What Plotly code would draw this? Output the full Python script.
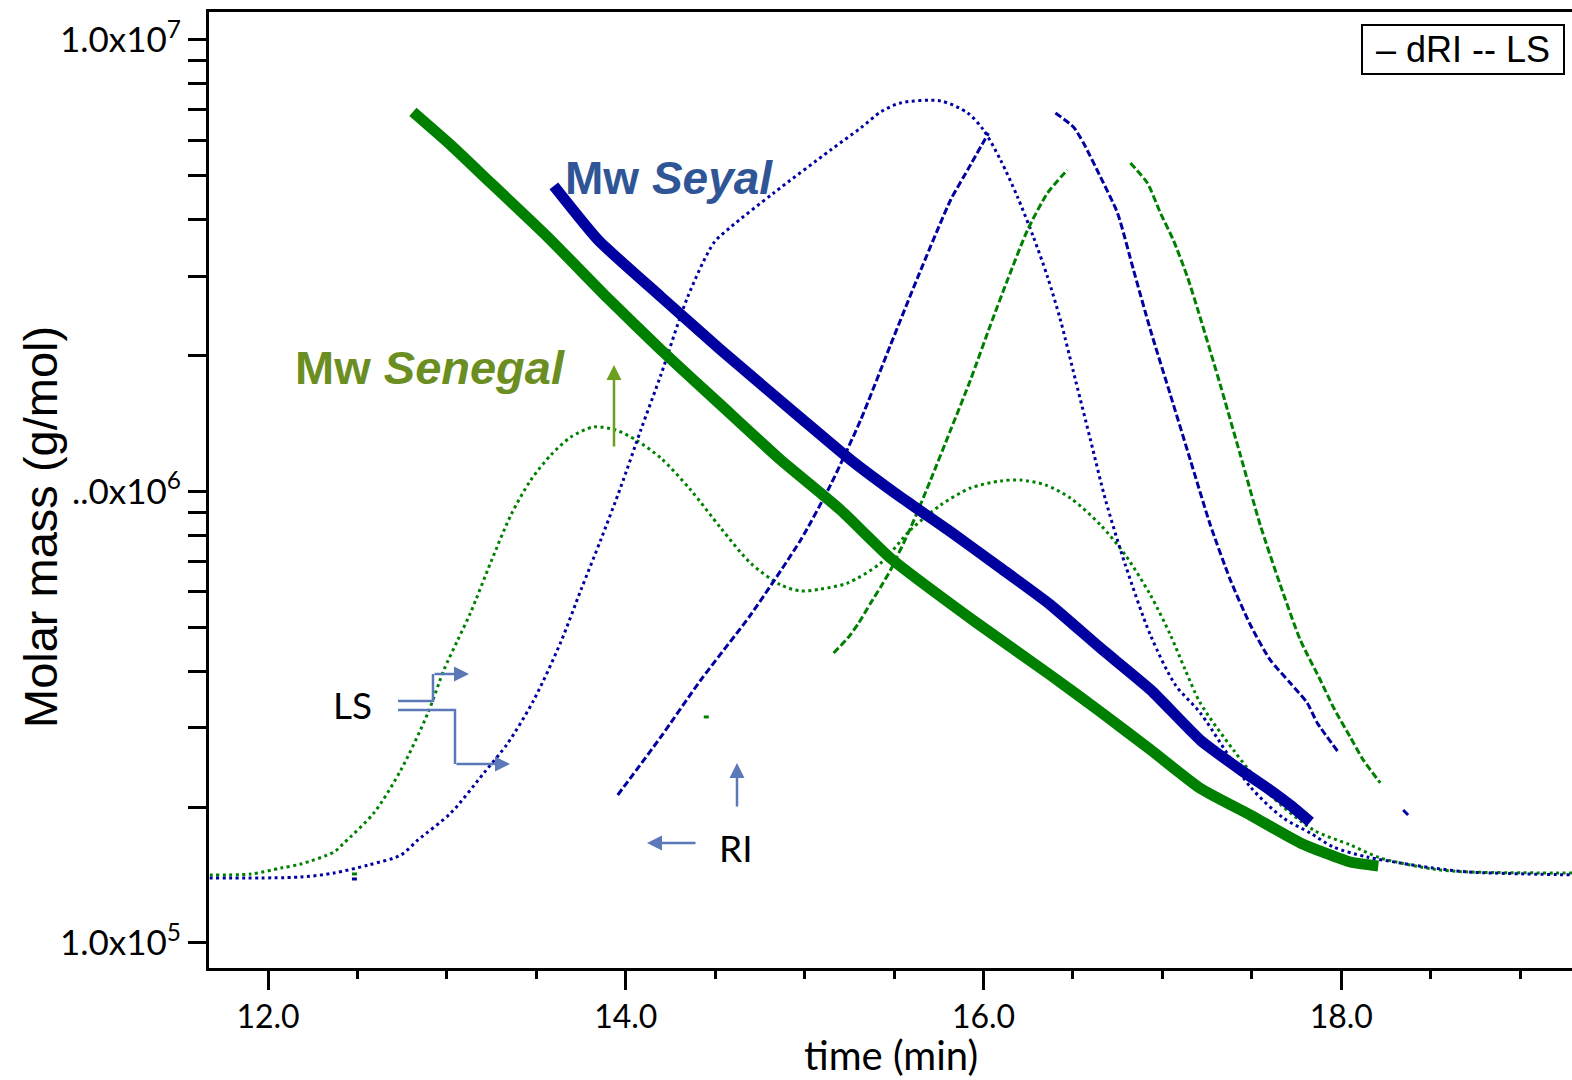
import plotly.graph_objects as go

# ---- Weight-average molar mass (g/mol) vs elution time (min) ----
senegal_mw_time = [12.810, 13.022, 13.246, 13.564, 13.899, 14.196, 14.531, 14.866, 15.201, 15.480,
                   15.955, 16.374, 16.654, 16.933, 17.212, 17.492, 17.771, 18.050, 18.207]
senegal_mw = [6.93e6, 5.85e6, 4.82e6, 3.66e6, 2.68e6, 2.06e6, 1.555e6, 1.175e6, 9.10e5, 7.12e5,
              5.14e5, 3.92e5, 3.25e5, 2.68e5, 2.20e5, 1.92e5, 1.666e5, 1.511e5, 1.481e5]

seyal_mw_time = [13.598, 13.844, 14.196, 14.531, 14.978, 15.257, 15.536, 15.816, 16.095, 16.374,
                 16.654, 16.933, 17.212, 17.436, 17.603, 17.715, 17.827]
seyal_mw = [4.75e6, 3.61e6, 2.70e6, 2.06e6, 1.455e6, 1.175e6, 9.72e5, 8.14e5, 6.77e5, 5.61e5,
            4.50e5, 3.64e5, 2.815e5, 2.42e5, 2.18e5, 2.02e5, 1.854e5]

# ---- Light-scattering detector traces (dotted) ----
senegal_ls_time = [11.6, 11.905, 12.073, 12.184, 12.369, 12.425, 12.592, 12.743, 12.894, 12.983,
                   13.061, 13.134, 13.246, 13.358, 13.469, 13.581, 13.693, 13.821, 13.944, 14.056,
                   14.196, 14.363, 14.531, 14.698, 14.866, 14.978, 15.089, 15.240, 15.425, 15.592,
                   15.760, 15.927, 16.095, 16.207, 16.346, 16.486, 16.654, 16.793, 16.933, 17.045,
                   17.128, 17.212, 17.397, 17.603, 17.844, 18.050, 18.218, 18.514, 18.704, 19.3]
senegal_ls = [1.415e5, 1.422e5, 1.466e5, 1.496e5, 1.591e5, 1.666e5, 1.941e5, 2.417e5, 3.232e5, 4.024e5,
              4.690e5, 5.41e5, 6.98e5, 8.87e5, 1.060e6, 1.204e6, 1.320e6, 1.390e6, 1.368e6, 1.301e6,
              1.186e6, 1.008e6, 8.30e5, 6.94e5, 6.21e5, 6.02e5, 6.08e5, 6.27e5, 6.94e5, 8.22e5,
              9.33e5, 1.018e6, 1.055e6, 1.060e6, 1.034e6, 9.67e5, 8.43e5, 7.23e5, 5.90e5, 4.81e5,
              4.024e5, 3.40e5, 2.676e5, 2.127e5, 1.780e5, 1.649e5, 1.543e5, 1.458e5, 1.437e5, 1.429e5]

seyal_ls_time = [11.6, 12.184, 12.369, 12.559, 12.743, 12.838, 13.022, 13.207, 13.341, 13.486,
                 13.637, 13.749, 13.860, 13.972, 14.084, 14.196, 14.346, 14.492, 14.587, 14.827,
                 15.145, 15.313, 15.425, 15.536, 15.760, 15.911, 16.000, 16.095, 16.190, 16.279,
                 16.358, 16.430, 16.514, 16.598, 16.682, 16.793, 16.933, 17.073, 17.212, 17.492,
                 17.676, 17.827, 17.955, 18.145, 18.330, 18.514, 18.704, 19.3]
seyal_ls = [1.393e5, 1.400e5, 1.429e5, 1.488e5, 1.566e5, 1.691e5, 1.941e5, 2.380e5, 2.773e5, 3.453e5,
            4.642e5, 6.05e5, 7.81e5, 1.023e6, 1.368e6, 1.811e6, 2.697e6, 3.552e6, 3.853e6, 4.583e6,
            5.706e6, 6.385e6, 6.928e6, 7.254e6, 7.328e6, 6.893e6, 6.320e6, 5.424e6, 4.491e6, 3.662e6,
            2.987e6, 2.398e6, 1.766e6, 1.301e6, 9.58e5, 6.875e5, 4.81e5, 3.727e5, 3.232e5, 2.216e5,
            1.892e5, 1.752e5, 1.632e5, 1.550e5, 1.504e5, 1.466e5, 1.437e5, 1.415e5]

# ---- Differential refractive index traces (dashed); None splits the fragments ----
senegal_dri_time = [12.469, 12.497, None, 14.436, 14.464, None,
                    15.162, 15.246, 15.302, 15.369, 15.425, 15.480, 15.592, 15.704, 15.816, 15.927,
                    16.039, 16.134, 16.246, 16.358, 16.469, None,
                    16.821, 16.916, 16.989, 17.061, 17.140, 17.212, 17.324, 17.436, 17.547, 17.659,
                    17.771, 17.883, 17.955, 18.050, 18.123, 18.218]
senegal_dri = [1.422e5, 1.422e5, None, 3.167e5, 3.167e5, None,
               4.388e5, 4.761e5, 5.113e5, 5.662e5, 6.144e5, 6.700e5, 8.30e5, 1.060e6, 1.368e6, 1.766e6,
               2.338e6, 2.940e6, 3.795e6, 4.583e6, 5.153e6, None,
               5.341e6, 4.823e6, 4.138e6, 3.606e6, 2.987e6, 2.423e6, 1.721e6, 1.204e6, 8.43e5, 6.21e5,
               4.690e5, 3.823e5, 3.332e5, 2.860e5, 2.543e5, 2.262e5]

seyal_dri_time = [12.469, 12.497, None,
                  13.955, 14.196, 14.419, 14.698, 14.978, 15.145, 15.313, 15.480, 15.631, 15.816,
                  15.911, 16.028, None,
                  16.402, 16.503, 16.559, 16.654, 16.749, 16.838, 16.933, 17.045, 17.156, 17.268,
                  17.380, 17.492, 17.603, 17.715, 17.810, 17.866, 17.983, None, 18.346, 18.385]
seyal_dri = [1.386e5, 1.386e5, None,
             2.127e5, 2.860e5, 3.823e5, 5.33e5, 7.81e5, 1.034e6, 1.440e6, 2.111e6, 2.972e6, 4.422e6,
             5.153e6, 6.223e6, None,
             6.893e6, 6.417e6, 5.913e6, 4.972e6, 4.138e6, 3.10e6, 2.279e6, 1.636e6, 1.175e6, 8.43e5,
             6.368e5, 5.062e5, 4.235e5, 3.766e5, 3.40e5, 3.072e5, 2.649e5, None, 1.970e5, 1.902e5]

# ---- Axis ticks ----
y_major = [1e5, 1e6, 1e7]
y_major_text = ["1.0x10<sup>5</sup>", "..0x10<sup>6</sup>", "1.0x10<sup>7</sup>"]
y_minor = [m * 10 ** e for e in (5, 6) for m in range(2, 10)]

GREEN = "#008000"
BLUE = "#0000A0"
ARROW_BLUE = "#5B78B8"
ARROW_GREEN = "#6E9E1E"
CALIBRI_LIKE = "Lato, 'Open Sans', sans-serif"
ARIAL_LIKE = "'Liberation Sans', Arial, sans-serif"

fig = go.Figure()

dot = "3px,3.5px"
dash = "7px,3px"
fig.add_trace(go.Scatter(x=senegal_ls_time, y=senegal_ls, mode="lines",
                         line=dict(color=GREEN, width=3, dash=dot, shape="spline", smoothing=0.8)))
fig.add_trace(go.Scatter(x=seyal_ls_time, y=seyal_ls, mode="lines",
                         line=dict(color=BLUE, width=3, dash=dot, shape="spline", smoothing=0.8)))
fig.add_trace(go.Scatter(x=senegal_dri_time, y=senegal_dri, mode="lines",
                         line=dict(color=GREEN, width=3, dash=dash, shape="spline", smoothing=0.6)))
fig.add_trace(go.Scatter(x=seyal_dri_time, y=seyal_dri, mode="lines",
                         line=dict(color=BLUE, width=3, dash=dash, shape="spline", smoothing=0.6)))
fig.add_trace(go.Scatter(x=senegal_mw_time, y=senegal_mw, mode="lines",
                         line=dict(color=GREEN, width=11, shape="spline", smoothing=0.5)))
fig.add_trace(go.Scatter(x=seyal_mw_time, y=seyal_mw, mode="lines",
                         line=dict(color=BLUE, width=11, shape="spline", smoothing=0.5)))

W, H = 1572, 1080
L, R, T, B = 209, 0, 12, 112
PW, PH = W - L - R, H - T - B


def px(x):
    return (x - L) / PW


def py(y):
    return (H - B - y) / PH


def label(text, x, y, size, family, color="black", **kw):
    return dict(text=text, x=px(x), y=py(y), xref="paper", yref="paper",
                xanchor="center", yanchor="middle", showarrow=False,
                font=dict(family=family, size=size, color=color), **kw)


annotations = [
    label("<b>Mw <i>Seyal</i></b>", 669, 178, 46, ARIAL_LIKE, "#2F5597"),
    label("<b>Mw <i>Senegal</i></b>", 430, 367, 47, ARIAL_LIKE, "#6B8E23"),
    label("LS", 352, 704, 37, CALIBRI_LIKE),
    label("RI", 736, 847, 37, CALIBRI_LIKE),
    label("Molar mass (g/mol)", 40, 527, 47, ARIAL_LIKE, textangle=-90),
    label("time (min)", 891, 1055, 40, CALIBRI_LIKE),
    dict(text="\u00a0\u2013 dRI -- LS\u00a0", x=px(1565), y=py(24), xref="paper", yref="paper",
         xanchor="right", yanchor="top", showarrow=False, bgcolor="white",
         bordercolor="black", borderwidth=2, borderpad=3,
         font=dict(family=ARIAL_LIKE, size=36, color="black")),
]

# arrow pointers: (tip_x, tip_y, tail offset ax, ay, colour)
arrows = [
    (469, 674, -36, 0, ARROW_BLUE),
    (510, 764, -55, 0, ARROW_BLUE),
    (614, 365, 0, 83, ARROW_GREEN),
    (737, 763, 0, 45, ARROW_BLUE),
    (647, 843, 50, 0, ARROW_BLUE),
]
for tx, ty, ax, ay, col in arrows:
    annotations.append(dict(text="", x=px(tx), y=py(ty), xref="paper", yref="paper",
                            showarrow=True, ax=ax, ay=ay, arrowhead=2, arrowsize=1.2,
                            arrowwidth=2.5, arrowcolor=col, standoff=0))


def path(points):
    return "M " + " L ".join(f"{px(a):.5f},{py(b):.5f}" for a, b in points)


shapes = [
    dict(type="path", xref="paper", yref="paper",
         path=path([(398, 701), (433, 701), (433, 674)]),
         line=dict(color=ARROW_BLUE, width=2.5)),
    dict(type="path", xref="paper", yref="paper",
         path=path([(398, 710), (455, 710), (455, 764)]),
         line=dict(color=ARROW_BLUE, width=2.5)),
]

fig.update_layout(
    width=W, height=H,
    margin=dict(l=L, r=R, t=T, b=B, pad=0),
    paper_bgcolor="white", plot_bgcolor="white",
    showlegend=False,
    annotations=annotations,
    shapes=shapes,
    xaxis=dict(
        range=[11.67, 19.29], tick0=12, dtick=2, tickformat=".1f",
        ticks="outside", ticklen=19, tickwidth=2.5, tickcolor="black",
        showline=True, linewidth=3, linecolor="black", mirror=True,
        showgrid=False, zeroline=False,
        tickfont=dict(family=CALIBRI_LIKE, size=32, color="black"),
        minor=dict(dtick=0.5, tick0=12, ticks="outside", ticklen=8, tickwidth=2.5,
                   tickcolor="black", showgrid=False),
    ),
    yaxis=dict(
        type="log", range=[4.9446, 7.062],
        tickmode="array", tickvals=y_major, ticktext=y_major_text,
        ticks="outside", ticklen=18, tickwidth=2.5, tickcolor="black",
        showline=True, linewidth=3, linecolor="black", mirror=False,
        showgrid=False, zeroline=False,
        tickfont=dict(family=CALIBRI_LIKE, size=35, color="black"),
        minor=dict(tickmode="array", tickvals=y_minor, ticks="outside", ticklen=18,
                   tickwidth=2.5, tickcolor="black", showgrid=False),
    ),
)

fig.write_html("out.html")
